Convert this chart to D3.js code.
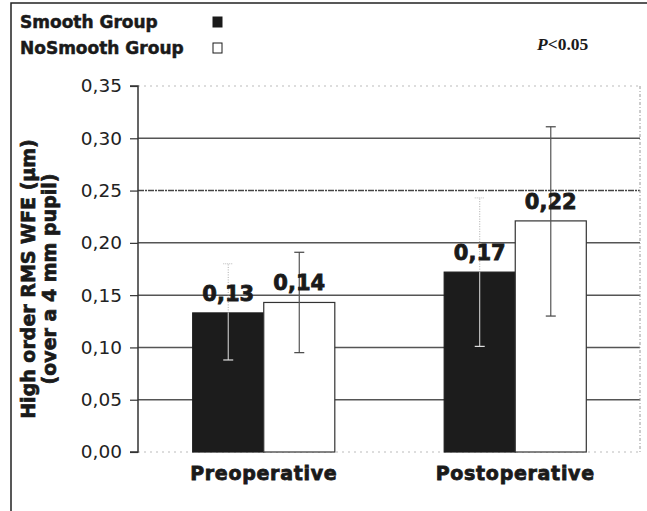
<!DOCTYPE html>
<html>
<head>
<meta charset="utf-8">
<script src="https://cdn.jsdelivr.net/npm/d3@7"></script>
<style>
  html, body { margin: 0; padding: 0; background: #fff; }
  svg { display: block; }
</style>
</head>
<body>
<script>
// ---- data ----
const categories = ["Preoperative", "Postoperative"];
const seriesNames = ["Smooth Group", "NoSmooth Group"];
const smoothValues = [0.133, 0.172];
const noSmoothValues = [0.143, 0.221];
const smoothLow = [0.088, 0.101];
const smoothHigh = [0.180, 0.243];
const noSmoothLow = [0.095, 0.130];
const noSmoothHigh = [0.191, 0.311];
const yTicks = [0, 0.05, 0.10, 0.15, 0.20, 0.25, 0.30, 0.35];
const pText = "<0.05";

(function () {
const W = 647, H = 511;
const svg = d3.select("body").append("svg").attr("width", W).attr("height", H);
const FONT = "DejaVu Sans, Verdana, sans-serif";
const INK = "#1a1a1a";

const mLeft = 138, mRight = 641, mTop = 86, mBottom = 452;
const y = d3.scaleLinear().domain([0, 0.35]).range([mBottom, mTop]);
const x0 = d3.scaleBand().domain(categories).range([mLeft, mRight])
  .paddingInner(0.435).paddingOuter(0.2175);
const x1 = d3.scaleBand().domain(seriesNames).range([0, x0.bandwidth()]);

const loc = d3.formatLocale({decimal: ",", thousands: ".", grouping: [3], currency: ["", ""]});
const fmt = loc.format(".2f");

function heavy(sel, w) {
  return sel.attr("stroke", INK).attr("stroke-width", w).attr("paint-order", "stroke");
}

// outer frame (left and top edges)
svg.append("path").attr("d", `M11,${H} L11,3 L${W},3`)
  .attr("fill", "none").attr("stroke", "#222").attr("stroke-width", 1.5);

// gridlines
const g = svg.append("g");
yTicks.forEach(t => {
  let stroke = "#555", dash = null, sw = 1.5;
  if (t === 0.35 || t === 0) { stroke = "#bbb"; dash = "2,4"; sw = 1; }
  else if (t === 0.25) { stroke = "#444"; dash = "6,1,2,1"; sw = 1.5; }
  g.append("line").attr("x1", mLeft).attr("x2", 640)
    .attr("y1", y(t)).attr("y2", y(t))
    .attr("stroke", stroke).attr("stroke-width", sw)
    .attr("stroke-dasharray", dash);
});
// right dotted edge
g.append("line").attr("x1", 640).attr("x2", 640).attr("y1", mTop).attr("y2", mBottom)
  .attr("stroke", "#999").attr("stroke-width", 1).attr("stroke-dasharray", "3,2,1,2");

// y axis
const yAxis = d3.axisLeft(y).tickValues(yTicks).tickFormat(fmt).tickSize(8).tickPadding(8);
const ya = svg.append("g").attr("transform", `translate(${mLeft},0)`).call(yAxis);
ya.select(".domain").attr("stroke", "#333").attr("stroke-width", 1.5).attr("d", `M-8,${mTop}H0V${mBottom}H-8`);
ya.selectAll(".tick line").attr("stroke", "#333").attr("stroke-width", 1.2);
ya.selectAll(".tick text").attr("font-family", FONT)
  .attr("font-size", 18.5).attr("fill", "#222");

// bars
const data = categories.map((c, i) => ({
  cat: c,
  items: [
    {s: seriesNames[0], v: smoothValues[i], lo: smoothLow[i], hi: smoothHigh[i]},
    {s: seriesNames[1], v: noSmoothValues[i], lo: noSmoothLow[i], hi: noSmoothHigh[i]}
  ]
}));

const groups = svg.selectAll(".grp").data(data).enter().append("g")
  .attr("transform", d => `translate(${x0(d.cat)},0)`);

groups.selectAll("rect").data(d => d.items).enter().append("rect")
  .attr("x", d => x1(d.s)).attr("width", x1.bandwidth())
  .attr("y", d => y(d.v)).attr("height", d => y(0) - y(d.v))
  .attr("fill", d => d.s === seriesNames[0] ? "#1c1c1c" : "#fff")
  .attr("stroke", d => d.s === seriesNames[0] ? "#1c1c1c" : "#333")
  .attr("stroke-width", 1.2);

// error bars
groups.each(function(d) {
  const gg = d3.select(this);
  d.items.forEach(it => {
    const cx = x1(it.s) + x1.bandwidth() / 2;
    if (it.s === seriesNames[0]) {
      gg.append("line").attr("x1", cx).attr("x2", cx).attr("y1", y(it.v)).attr("y2", y(it.hi))
        .attr("stroke", "#aaa").attr("stroke-width", 1).attr("stroke-dasharray", "1,1.5");
      gg.append("line").attr("x1", cx - 5).attr("x2", cx + 5).attr("y1", y(it.hi)).attr("y2", y(it.hi))
        .attr("stroke", "#bbb").attr("stroke-width", 1).attr("stroke-dasharray", "1,1");
      gg.append("line").attr("x1", cx).attr("x2", cx).attr("y1", y(it.v)).attr("y2", y(it.lo))
        .attr("stroke", "#e0e0e0").attr("stroke-width", 1);
      gg.append("line").attr("x1", cx - 5).attr("x2", cx + 5).attr("y1", y(it.lo)).attr("y2", y(it.lo))
        .attr("stroke", "#e0e0e0").attr("stroke-width", 1.2);
    } else {
      gg.append("line").attr("x1", cx).attr("x2", cx).attr("y1", y(it.lo)).attr("y2", y(it.hi))
        .attr("stroke", "#555").attr("stroke-width", 1.2);
      [it.lo, it.hi].forEach(vv => {
        gg.append("line").attr("x1", cx - 5).attr("x2", cx + 5).attr("y1", y(vv)).attr("y2", y(vv))
          .attr("stroke", "#444").attr("stroke-width", 1.2);
      });
    }
  });
  // value labels
  d.items.forEach(it => {
    const cx = x1(it.s) + x1.bandwidth() / 2;
    heavy(gg.append("text").attr("x", cx).attr("y", y(it.v) - 12)
      .attr("text-anchor", "middle")
      .attr("font-family", FONT)
      .attr("font-weight", "bold").attr("font-size", 21).attr("fill", INK), 0.8)
      .text(fmt(it.v));
  });
});

// category labels
heavy(svg.selectAll(".cat").data(categories).enter().append("text")
  .attr("x", d => x0(d) + x0.bandwidth() / 2).attr("y", 480)
  .attr("text-anchor", "middle")
  .attr("font-family", FONT)
  .attr("font-weight", "bold").attr("font-size", 19).attr("letter-spacing", 0.7)
  .attr("fill", INK), 0.8).text(d => d);

// y axis title
const yt = heavy(svg.append("text")
  .attr("transform", `translate(0,279) rotate(-90)`)
  .attr("text-anchor", "middle")
  .attr("font-family", FONT)
  .attr("font-weight", "bold").attr("font-size", 19).attr("fill", INK), 0.7);
yt.append("tspan").attr("x", 0).attr("y", 35).text("High order RMS WFE (µm)");
yt.append("tspan").attr("x", 0).attr("y", 56).text("(over a 4 mm pupil)");

// legend
const leg = svg.append("g");
seriesNames.forEach((s, i) => {
  const by = 28 + i * 26;
  heavy(leg.append("text").attr("x", 20).attr("y", by)
    .attr("font-family", FONT)
    .attr("font-weight", "bold").attr("font-size", 17).attr("fill", INK), 0.5).text(s);
  leg.append("rect").attr("x", 213).attr("y", by - 11).attr("width", 9).attr("height", 10)
    .attr("fill", i === 0 ? INK : "#fff").attr("stroke", INK).attr("stroke-width", 1);
});

// p-value
const pt = svg.append("text").attr("x", 537).attr("y", 50)
  .attr("font-family", "Liberation Serif, Times New Roman, serif")
  .attr("font-weight", "bold")
  .attr("font-size", 17.5).attr("fill", INK);
pt.append("tspan").attr("font-style", "italic").text("P");
pt.append("tspan").text(pText);
})();
</script>
</body>
</html>
